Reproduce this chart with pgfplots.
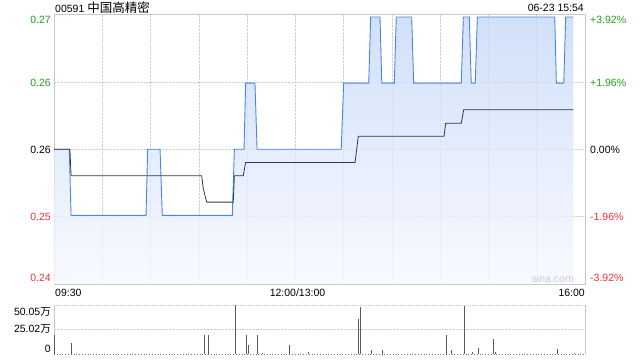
\documentclass[border=0pt]{standalone}
\usepackage{pgfplots}
\pgfplotsset{compat=1.18}
\usepackage{fontspec}
\setmainfont{Liberation Sans}
\newfontfamily\cjk{Noto Sans CJK SC}
\definecolor{upg}{RGB}{30,160,30}
\definecolor{dnr}{RGB}{235,50,50}
\definecolor{pline}{RGB}{70,135,230}
\definecolor{bord}{RGB}{200,200,200}
\definecolor{gridc}{RGB}{208,208,208}
\definecolor{avgc}{RGB}{50,55,65}
\begin{document}
\begin{tikzpicture}[font=\fontsize{10.5}{12}\selectfont]
\path[use as bounding box] (0,0) rectangle (640pt,360pt);
% main price axis
\begin{axis}[at={(54pt,76pt)}, anchor=south west, scale only axis,
  width=531pt, height=269.5pt,
  xmin=0, xmax=330, ymin=0.24981, ymax=0.27019,
  xtick={30,60,...,300}, ytick={0.2549,0.26,0.2651},
  xticklabels={}, yticklabels={},
  grid=major, major grid style={gridc, densely dotted, line width=0.6pt},
  major tick length=0pt, axis line style={bord}, clip=true]
\addplot[draw=none, top color={rgb,255:red,198;green,216;blue,247}, bottom color={rgb,255:red,246;green,249;blue,255}, fill opacity=0.8] coordinates {
(0,0.26) (9.5,0.26) (10.6,0.255) (57.2,0.255) (58.2,0.26) (65.9,0.26) (67.3,0.255) (110.8,0.255) (112.1,0.26) (118.1,0.26) (119.1,0.265) (124.9,0.265) (126.2,0.26) (178.5,0.26) (180,0.265) (195.6,0.265) (196.8,0.27) (202.6,0.27) (203.7,0.265) (211.5,0.265) (212.7,0.27) (222.3,0.27) (223.5,0.265) (253.1,0.265) (254.4,0.27) (258.1,0.27) (259.3,0.265) (261.8,0.265) (263.1,0.27) (311.2,0.27) (312.2,0.265) (316.8,0.265) (318,0.27) (322.7,0.27)
} \closedcycle;
\addplot[pline, line width=0.9pt] coordinates {
(0,0.26) (9.5,0.26) (10.6,0.255) (57.2,0.255) (58.2,0.26) (65.9,0.26) (67.3,0.255) (110.8,0.255) (112.1,0.26) (118.1,0.26) (119.1,0.265) (124.9,0.265) (126.2,0.26) (178.5,0.26) (180,0.265) (195.6,0.265) (196.8,0.27) (202.6,0.27) (203.7,0.265) (211.5,0.265) (212.7,0.27) (222.3,0.27) (223.5,0.265) (253.1,0.265) (254.4,0.27) (258.1,0.27) (259.3,0.265) (261.8,0.265) (263.1,0.27) (311.2,0.27) (312.2,0.265) (316.8,0.265) (318,0.27) (322.7,0.27)
};
\addplot[avgc, line width=0.8pt] coordinates {
(0,0.26) (9.9,0.26) (10.6,0.258) (91.8,0.258) (92.8,0.257) (94.9,0.256) (111.4,0.256) (112.1,0.258) (117.6,0.258) (119.1,0.259) (187.1,0.259) (189.1,0.26098) (242.4,0.26098) (243.4,0.26196) (253.1,0.26196) (254.6,0.26298) (322.7,0.26298)
};
\end{axis}
% volume axis
\begin{axis}[at={(54pt,6pt)}, anchor=south west, scale only axis,
  width=531pt, height=49pt,
  xmin=0, xmax=330, ymin=0, ymax=50.05,
  xtick=\empty, ytick={25.02}, yticklabels={},
  ymajorgrids, major grid style={gridc, densely dotted, line width=0.6pt},
  major tick length=0pt, axis line style={draw=none}, clip=false]
\draw[bord] (rel axis cs:0,0) -- (rel axis cs:0,1);
\draw[bord] (rel axis cs:1,0) -- (rel axis cs:1,1);
\draw[gridc, densely dotted, line width=0.6pt] (rel axis cs:0,1) -- (rel axis cs:1,1);
\draw[black!55, dotted, line width=0.8pt] (rel axis cs:0,0) -- (rel axis cs:1,0);
\addplot[ycomb, draw=black!65, line width=0.8pt] coordinates {
(0.5,19.4) (11,11.5) (93.2,19.4) (95.9,19.4) (112.7,50.05) (119.5,19.4) (120.7,9.2) (126.4,19.4) (129.7,1.3) (146.2,9.2) (158,2) (189.4,35.7) (190.4,48.3) (197.4,4.1) (204.3,4) (243.8,19.4) (247.2,4) (255,49.3) (260,2.3) (263.7,6.4) (273,15.3) (274.6,2) (312.8,5.1) (323.2,1.5)
};
\end{axis}
% texts
\node[anchor=west, inner sep=0] at (55pt,352pt) {00591 {\cjk\fontsize{12.5}{14}\selectfont 中国高精密}};
\node[anchor=east, inner sep=0] at (584pt,352pt) {06-23 15:54};
\node[anchor=east, inner sep=0, text=upg] at (51pt,340pt) {0.27};
\node[anchor=east, inner sep=0, text=upg] at (51pt,277.5pt) {0.26};
\node[anchor=east, inner sep=0] at (51pt,210.5pt) {0.26};
\node[anchor=east, inner sep=0, text=dnr] at (51pt,143pt) {0.25};
\node[anchor=east, inner sep=0, text=dnr] at (51pt,82pt) {0.24};
\node[anchor=west, inner sep=0, text=upg] at (590pt,340pt) {+3.92\%};
\node[anchor=west, inner sep=0, text=upg] at (590pt,277.5pt) {+1.96\%};
\node[anchor=west, inner sep=0] at (590pt,210.5pt) {0.00\%};
\node[anchor=west, inner sep=0, text=dnr] at (590pt,143pt) {-1.96\%};
\node[anchor=west, inner sep=0, text=dnr] at (590pt,82pt) {-3.92\%};
\node[anchor=east, inner sep=0, text=black!20] at (574pt,81pt) {sina.com};
\node[anchor=west, inner sep=0] at (55pt,67pt) {09:30};
\node[inner sep=0] at (297.5pt,67pt) {12:00/13:00};
\node[anchor=east, inner sep=0] at (585pt,67pt) {16:00};
\node[anchor=east, inner sep=0] at (51pt,48.3pt) {50.05{\cjk 万}};
\node[anchor=east, inner sep=0] at (51pt,30.7pt) {25.02{\cjk 万}};
\node[anchor=east, inner sep=0] at (51pt,11pt) {0};
\end{tikzpicture}
\end{document}
